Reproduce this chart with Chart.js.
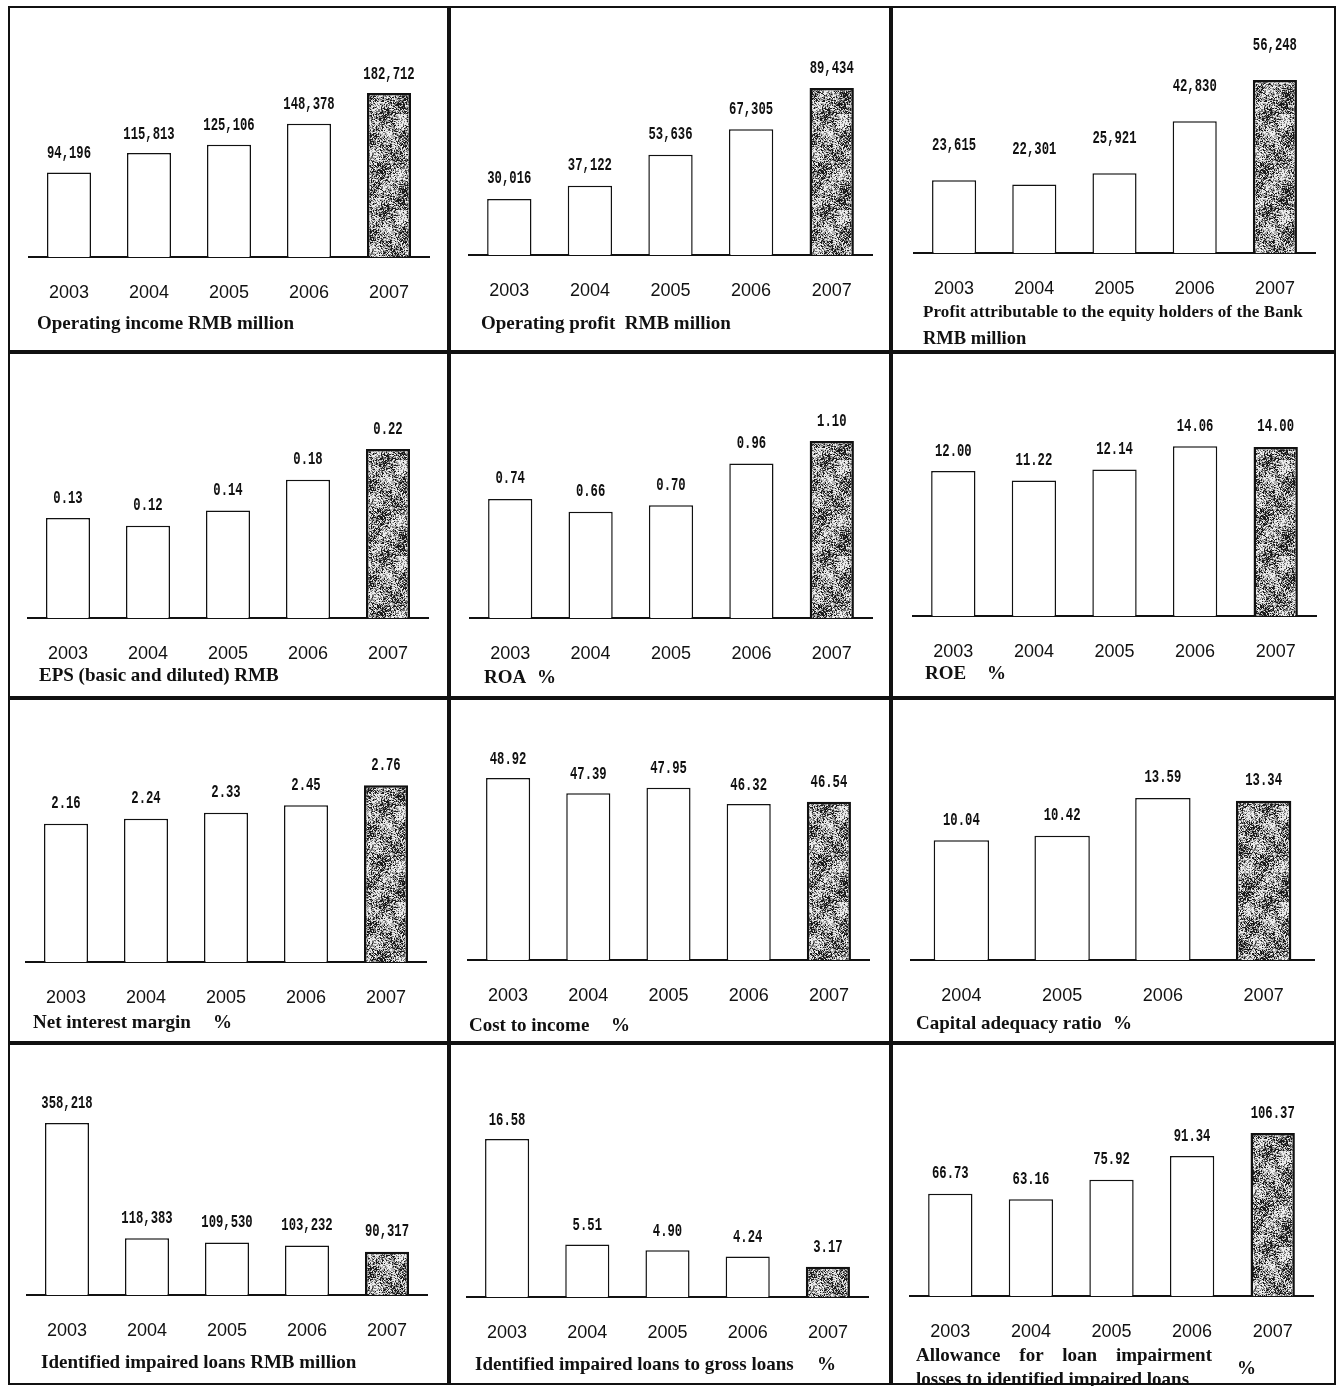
<!DOCTYPE html>
<html>
<head>
<meta charset="utf-8">
<script src="https://cdn.jsdelivr.net/npm/chart.js@4.4.0/dist/chart.umd.min.js"></script>
<style>
  body { margin: 0; background: #fff; }
  #page { position: relative; width: 1338px; height: 1386px; overflow: hidden; background: #fff; }
  .panel { position: absolute; box-sizing: border-box; border: 2px solid #111; z-index: 3; }
  canvas { position: absolute; z-index: 1; }
  .title { position: absolute; z-index: 2; font: bold 19px 'Liberation Serif', 'Times New Roman', serif;
           color: #111; white-space: pre; line-height: 20px; }
</style>
</head>
<body>
<div id="page"></div>
<script>
// categories
const years5 = ['2003', '2004', '2005', '2006', '2007'];
const years4 = ['2004', '2005', '2006', '2007'];

// series values
const operatingIncome = [94196, 115813, 125106, 148378, 182712];
const operatingProfit = [30016, 37122, 53636, 67305, 89434];
const profitAttributable = [23615, 22301, 25921, 42830, 56248];
const eps = [0.13, 0.12, 0.14, 0.18, 0.22];
const roa = [0.74, 0.66, 0.70, 0.96, 1.10];
const roe = [12.00, 11.22, 12.14, 14.06, 14.00];
const netInterestMargin = [2.16, 2.24, 2.33, 2.45, 2.76];
const costToIncome = [48.92, 47.39, 47.95, 46.32, 46.54];
const capitalAdequacy = [10.04, 10.42, 13.59, 13.34];
const impairedLoans = [358218, 118383, 109530, 103232, 90317];
const impairedToGross = [16.58, 5.51, 4.90, 4.24, 3.17];
const allowanceRatio = [66.73, 63.16, 75.92, 91.34, 106.37];

// axis ranges (value axis is hidden)
const yMin = [0, 0, 0, 0, 0, 0, 0, 30.72, 0, 0, 0, 0];
const yMax = [264000, 125850, 75750, 0.328, 1.566, 20.70, 3.906, 55.52, 20.79, 495700, 25.18, 156.0];

// titles
const titles = [
  ['Operating income RMB million'],
  ['Operating profit  RMB million'],
  ['Profit attributable to the equity holders of the Bank', 'RMB million'],
  ['EPS (basic and diluted) RMB'],
  ['ROA', '%'],
  ['ROE', '%'],
  ['Net interest margin', '%'],
  ['Cost to income', '%'],
  ['Capital adequacy ratio', '%'],
  ['Identified impaired loans RMB million'],
  ['Identified impaired loans to gross loans', '%'],
  ['Allowance for loan impairment', '%', 'losses to identified impaired loans']
];

const series = [operatingIncome, operatingProfit, profitAttributable, eps, roa, roe,
  netInterestMargin, costToIncome, capitalAdequacy, impairedLoans, impairedToGross, allowanceRatio];
const cats = [years5, years5, years5, years5, years5, years5, years5, years5, years4, years5, years5, years5];
const formats = ['int', 'int', 'int', 'dec', 'dec', 'dec', 'dec', 'dec', 'dec', 'int', 'dec', 'dec'];

// layout: panel grid and plot boxes
const colX = [8, 449, 891, 1336];
const rowY = [6, 352, 698, 1043, 1385];
const plotLeft = [29, 469, 914, 28, 470, 913, 26, 468, 911, 27, 467, 910];
const plotRight = [429, 872, 1315, 428, 872, 1316, 426, 869, 1314, 427, 868, 1313];
const baseY = [257, 255, 253, 618, 618, 616, 962, 960, 960, 1295, 1297, 1296];
const labelGap = [19, 20, 35, 20, 20, 20, 20, 19, 20, 20, 19, 20];
const titlePos = [[37, 323], [481, 323], [923, 312], [39, 675], [484, 677], [925, 673],
  [33, 1022], [469, 1025], [916, 1023], [41, 1362], [475, 1364], [916, 1355]];
const pctX = [0, 0, 0, 0, 537, 987, 213, 611, 1113, 0, 817, 1237];

function speckle() {
  const c = document.createElement('canvas');
  c.width = 96; c.height = 96;
  const g = c.getContext('2d');
  for (let y = 0; y < 96; y++) {
    for (let x = 0; x < 96; x++) {
      const n = Math.sin(x * 12.9898 + y * 78.233) * 43758.5453;
      const f = n - Math.floor(n);
      const m = (Math.sin(x * 0.21 + y * 0.13) + Math.cos(x * 0.11 - y * 0.23) + 2) / 4;
      const v = f * 0.65 + m * 0.35;
      g.fillStyle = v > 0.66 ? '#1a1a1a' : v > 0.52 ? '#6e6e6e' : v > 0.36 ? '#b4b4b4' : '#ededed';
      g.fillRect(x, y, 1, 1);
    }
  }
  return g.createPattern(c, 'repeat');
}
const texture = speckle();

const valueLabels = {
  id: 'valueLabels',
  afterDatasetsDraw(chart, args, opts) {
    const ctx = chart.ctx;
    const meta = chart.getDatasetMeta(0);
    const data = chart.data.datasets[0].data;
    ctx.save();
    ctx.fillStyle = '#111';
    ctx.font = 'bold 18px "Liberation Mono", "DejaVu Sans Mono", monospace';
    ctx.textAlign = 'center';
    ctx.textBaseline = 'middle';
    meta.data.forEach((bar, i) => {
      const v = data[i];
      const text = opts.fmt === 'int' ? v.toLocaleString('en-US') : v.toFixed(2);
      ctx.save();
      ctx.translate(bar.x, bar.y - opts.gap);
      ctx.scale(0.68, 1);
      ctx.fillText(text, 0, 0);
      ctx.restore();
    });
    ctx.restore();
  }
};

const page = document.getElementById('page');

const addText = (txt, left, cy, extra) => {
  const d = document.createElement('div');
  d.className = 'title';
  d.textContent = txt;
  d.style.left = left + 'px';
  d.style.top = (cy - 10) + 'px';
  if (extra) Object.assign(d.style, extra);
  page.appendChild(d);
  return d;
};

series.forEach((values, i) => {
  const c = i % 3, r = Math.floor(i / 3);
  const x0 = colX[c], y0 = rowY[r];
  const w = colX[c + 1] - x0, h = rowY[r + 1] - y0;
  const top = y0 + 14;
  const axisH = y0 + h - baseY[i];

  const canvas = document.createElement('canvas');
  canvas.width = w; canvas.height = h;
  canvas.style.left = x0 + 'px'; canvas.style.top = y0 + 'px';
  canvas.style.width = w + 'px'; canvas.style.height = h + 'px';
  page.appendChild(canvas);

  const box = document.createElement('div');
  box.className = 'panel';
  box.style.left = x0 + 'px'; box.style.top = y0 + 'px';
  box.style.width = w + 'px'; box.style.height = h + 'px';
  page.appendChild(box);

  const n = values.length;
  new Chart(canvas.getContext('2d'), {
    type: 'bar',
    data: {
      labels: cats[i],
      datasets: [{
        data: values,
        backgroundColor: values.map((v, j) => j === n - 1 ? texture : '#fff'),
        borderColor: '#111',
        borderWidth: values.map((v, j) => j === n - 1 ? 2.5 : 1.5),
        barPercentage: 0.55,
        categoryPercentage: 1
      }]
    },
    options: {
      responsive: false,
      animation: false,
      layout: { padding: { left: plotLeft[i] - x0, right: x0 + w - plotRight[i], top: top - y0, bottom: 0 } },
      plugins: {
        legend: { display: false },
        tooltip: { enabled: false },
        valueLabels: { gap: labelGap[i], fmt: formats[i] }
      },
      scales: {
        x: {
          offset: true,
          grid: { display: false, drawTicks: false },
          border: { display: true, color: '#111', width: 2 },
          ticks: { color: '#111', font: { family: "'Liberation Sans', Arial, sans-serif", size: 18 },
                   padding: 25, autoSkip: false, maxRotation: 0 },
          afterFit: s => { s.height = axisH; }
        },
        y: { display: false, min: yMin[i], max: yMax[i] }
      }
    },
    plugins: [valueLabels]
  });

  // title under the axis
  const t = titles[i];
  const [tx, ty] = titlePos[i];
  if (i === 2) {
    addText(t[0], tx, ty, { fontSize: '17px', letterSpacing: '0.1px' });
    addText(t[1], tx, ty + 26, { fontSize: '18.5px' });
  } else if (i === 11) {
    addText(t[0], tx, ty, { width: '296px', textAlign: 'justify', textAlignLast: 'justify', whiteSpace: 'normal' });
    addText(t[1], pctX[i], ty + 13);
    addText(t[2], tx, ty + 24);
  } else {
    addText(t[0], tx, ty);
    if (t.length === 2) addText(t[1], pctX[i], ty);
  }
});
</script>
</body>
</html>
